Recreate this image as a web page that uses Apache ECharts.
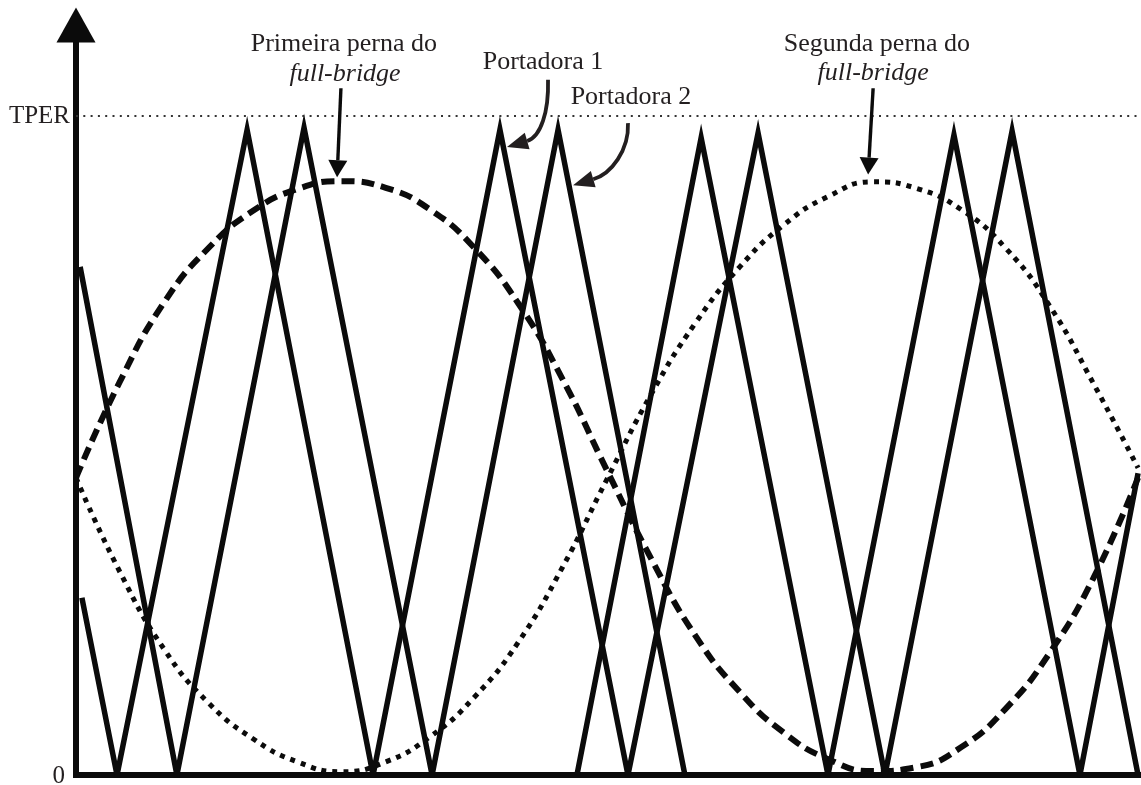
<!DOCTYPE html>
<html>
<head>
<meta charset="utf-8">
<script src="https://cdn.jsdelivr.net/npm/echarts@6/dist/echarts.min.js"></script>
<style>
  html, body { margin: 0; padding: 0; background: #ffffff; }
  #chart { width: 1141px; height: 785px; }
</style>
</head>
<body>
<div id="chart"></div>
<script>
// Phase of the modulating signal (degrees) at which both legs are sampled
const angles = [0, 15, 30, 45, 60, 75, 90, 105, 120, 135, 150, 165, 180,
                195, 210, 225, 240, 255, 270, 285, 300, 315, 330, 345, 360];

// Reference of the first leg of the full-bridge (fraction of TPER)
const legA = [0.451, 0.598, 0.718, 0.800, 0.856, 0.889, 0.901, 0.891, 0.858, 0.800, 0.715, 0.600, 0.462,
              0.328, 0.211, 0.126, 0.064, 0.024, 0.006, 0.012, 0.042, 0.100, 0.185, 0.300, 0.451];

// Reference of the second leg of the full-bridge (fraction of TPER)
const legB = [0.451, 0.307, 0.190, 0.109, 0.055, 0.020, 0.005, 0.020, 0.058, 0.118, 0.202, 0.316, 0.449,
              0.578, 0.686, 0.771, 0.835, 0.878, 0.900, 0.890, 0.858, 0.800, 0.712, 0.593, 0.466];

// Triangular carriers: vertices as [phase in degrees, counter value as a fraction of TPER]
const carrier1 = [[2.0, 0.269], [13.9, 0], [58.0, 0.979], [100.7, 0], [143.7, 0.979],
                  [187.1, 0], [231.2, 0.974], [274.2, 0], [317.3, 0.977], [360.0, 0]];
const carrier2 = [[1.4, 0.771], [34.2, 0], [77.3, 0.982], [120.7, 0], [163.4, 0.979], [206.4, 0]];
const carrier2Shifted = [[169.8, 0], [211.9, 0.967], [254.9, 0], [297.6, 0.971], [340.3, 0], [360.0, 0.458]];

// Vertical axis labels
const yTickLabels = { 0: '0', 1: 'TPER' };

const ink = '#231f20';
const stroke = '#0b0b0b';
const serif = '"Liberation Serif", "Times New Roman", serif';

const toPairs = (xs, ys) => xs.map((x, i) => [x, ys[i]]);

const carrierStyle = { color: stroke, width: 5.5, join: 'miter', miterLimit: 20, cap: 'butt' };

const option = {
  animation: false,
  backgroundColor: '#ffffff',
  grid: { left: 76, right: 0, top: 25, bottom: 10, containLabel: false, outerBoundsMode: 'none' },
  xAxis: {
    type: 'value', min: 0, max: 361,
    axisLine: { show: true, onZero: false, lineStyle: { color: stroke, width: 6, cap: 'square' } },
    axisTick: { show: false }, axisLabel: { show: false }, splitLine: { show: false }
  },
  yAxis: {
    type: 'value', min: 0, max: 1.138, interval: 1,
    axisLine: {
      show: true, onZero: false,
      symbol: ['none', 'triangle'], symbolSize: [39, 35],
      lineStyle: { color: stroke, width: 6, cap: 'square' }
    },
    axisTick: { show: false }, splitLine: { show: false },
    axisLabel: {
      margin: 6,
      formatter: v => {
        if (v === 0) return '{z|' + yTickLabels[0] + '}';
        if (v === 1) return '{t|' + yTickLabels[1] + '}';
        return '';
      },
      rich: {
        t: { fontFamily: serif, fontSize: 25, color: ink },
        z: { fontFamily: serif, fontSize: 25, color: ink, padding: [2, 5, 0, 0] }
      }
    }
  },
  series: [
    {
      name: 'Primeira perna', type: 'line', data: toPairs(angles, legA),
      smooth: true, symbol: 'none', showSymbol: false,
      lineStyle: { color: stroke, width: 6, type: [13, 7], cap: 'butt' },
      markLine: {
        silent: true, symbol: ['none', 'none'], label: { show: false },
        lineStyle: { color: '#333333', width: 2, type: [2, 5.3] },
        data: [{ yAxis: 1 }]
      }
    },
    {
      name: 'Segunda perna', type: 'line', data: toPairs(angles, legB),
      smooth: true, symbol: 'none', showSymbol: false,
      lineStyle: { color: stroke, width: 5, type: [5, 6], cap: 'butt' }
    },
    { name: 'Portadora 1', type: 'line', data: carrier1, symbol: 'none', showSymbol: false, lineStyle: carrierStyle },
    { name: 'Portadora 2', type: 'line', data: carrier2, symbol: 'none', showSymbol: false, lineStyle: carrierStyle },
    { name: 'Portadora 2b', type: 'line', data: carrier2Shifted, symbol: 'none', showSymbol: false, lineStyle: carrierStyle }
  ]
};

const chart = echarts.init(document.getElementById('chart'), null, { renderer: 'canvas' });
chart.setOption(option);

// Annotations, anchored in axis units (phase in degrees, fraction of TPER)
const notes = [
  { text: 'Primeira perna do', at: [90.8, 1.109] },
  { text: 'full-bridge', at: [91.2, 1.064], italic: true },
  { text: 'Portadora 1', at: [158.3, 1.082] },
  { text: 'Portadora 2', at: [188.1, 1.029] },
  { text: 'Segunda perna do', at: [271.5, 1.109] },
  { text: 'full-bridge', at: [270.2, 1.065], italic: true }
];
const pointers = [
  { from: [89.8, 1.042], tip: [88.5, 0.907], head: [17, 19] },
  { from: [270.2, 1.042], tip: [268.5, 0.911], head: [17, 19] },
  { from: [160.0, 1.055], c1: [160.3, 1.006], c2: [157.5, 0.968], tip: [146.1, 0.953], head: [21, 17] },
  { from: [187.1, 0.989], c1: [187.5, 0.948], c2: [181.4, 0.912], tip: [168.5, 0.895], head: [21, 17] }
];

const toPx = p => chart.convertToPixel({ gridIndex: 0 }, p);

function arrowHead(tip, from, len, wid) {
  const dx = tip[0] - from[0], dy = tip[1] - from[1];
  const d = Math.hypot(dx, dy);
  const ux = dx / d, uy = dy / d;
  const bx = tip[0] - ux * len, by = tip[1] - uy * len;
  return {
    base: [bx, by],
    points: [tip, [bx - uy * wid / 2, by + ux * wid / 2], [bx + uy * wid / 2, by - ux * wid / 2]]
  };
}

const elements = [];
notes.forEach(n => {
  const p = toPx(n.at);
  elements.push({
    type: 'text', x: p[0], y: p[1], z: 100,
    style: {
      text: n.text,
      font: (n.italic ? 'italic ' : '') + '26px ' + serif,
      fill: ink,
      align: 'center', verticalAlign: 'middle',
      textAlign: 'center', textVerticalAlign: 'middle'
    }
  });
});
pointers.forEach(a => {
  const s = toPx(a.from), t = toPx(a.tip);
  if (a.c1) {
    const c1 = toPx(a.c1), c2 = toPx(a.c2);
    const h = arrowHead(t, c2, a.head[0], a.head[1]);
    elements.push({
      type: 'bezierCurve', z: 100,
      shape: { x1: s[0], y1: s[1], cpx1: c1[0], cpy1: c1[1], cpx2: c2[0], cpy2: c2[1], x2: h.base[0], y2: h.base[1] },
      style: { stroke: ink, lineWidth: 3.8, fill: null }
    });
    elements.push({ type: 'polygon', z: 100, shape: { points: h.points }, style: { fill: ink } });
  } else {
    const h = arrowHead(t, s, a.head[0], a.head[1]);
    elements.push({
      type: 'line', z: 100,
      shape: { x1: s[0], y1: s[1], x2: h.base[0], y2: h.base[1] },
      style: { stroke: stroke, lineWidth: 3.4 }
    });
    elements.push({ type: 'polygon', z: 100, shape: { points: h.points }, style: { fill: stroke } });
  }
});

chart.setOption({ graphic: { elements: elements } });
</script>
</body>
</html>
